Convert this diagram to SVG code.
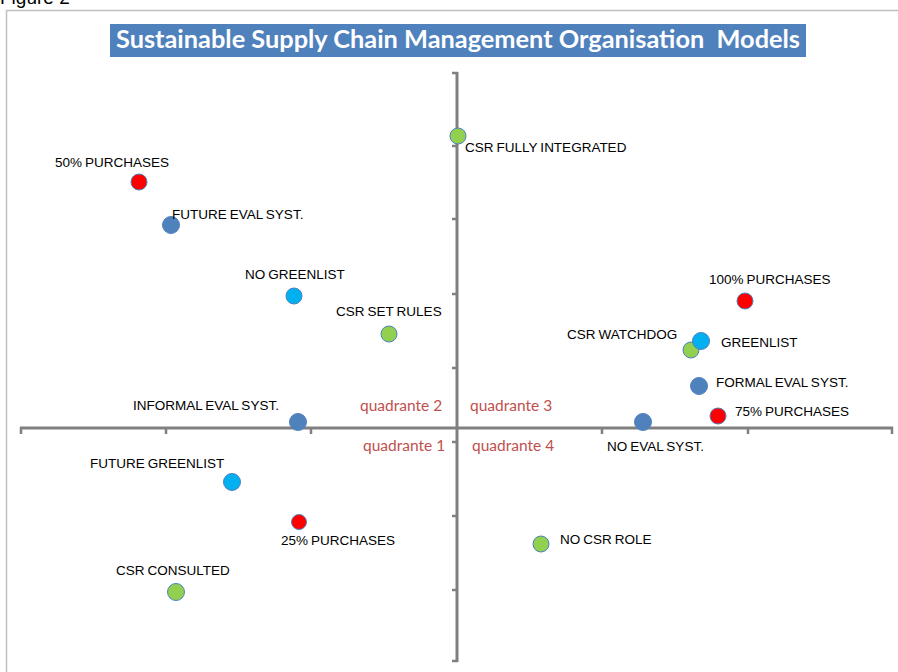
<svg xmlns="http://www.w3.org/2000/svg" width="898" height="672" viewBox="0 0 898 672">
  <style>
    .lbl { font-family: "Liberation Sans", Arial, sans-serif; font-size: 13.5px; word-spacing: -0.7px; fill: #000; }
    .quad { font-family: Lato, "Open Sans", sans-serif; font-size: 15.5px; fill: #C0504D; }
    .axis { stroke: #808080; stroke-width: 3; fill: none; }
    .tick { stroke: #808080; stroke-width: 2.5; fill: none; }
    .pt { stroke: #4F81BD; stroke-width: 1; }
    .red { fill: #FF0000; }
    .green { fill: #92D050; }
    .cyan { fill: #00B0F0; }
    .blue { fill: #4F81BD; }
  </style>
  <rect width="898" height="672" fill="#FFFFFF"/>

  <!-- caption above the frame -->
  <text x="0" y="4" font-family="Liberation Sans, Arial, sans-serif" font-size="19" fill="#000">Figure 2</text>

  <!-- chart frame -->
  <path d="M6.5 672 V10.5 H898" fill="none" stroke="#BFBFBF" stroke-width="1.5"/>

  <!-- title banner -->
  <g id="title">
    <rect x="110" y="24" width="696" height="33" fill="#4F81BD"/>
    <text x="116" y="48" xml:space="preserve" font-family="Lato, 'Open Sans', sans-serif" font-weight="bold" font-size="24" fill="#FFFFFF" textLength="684" lengthAdjust="spacingAndGlyphs">Sustainable Supply Chain Management Organisation  Models</text>
  </g>

  <!-- axes with tick marks -->
  <g id="axes">
    <line class="axis" x1="20" y1="428" x2="893" y2="428"/>
    <line class="axis" x1="457" y1="72" x2="457" y2="662"/>
    <path class="tick" d="M21 427 V434 M166 428 V434 M311 428 V434 M602 428 V434 M748 428 V434 M892 427 V434"/>
    <path class="tick" d="M452 73 H458 M452 146 H457 M452 219 H457 M452 294 H457 M452 368 H457 M452 442 H457 M452 516 H457 M452 590 H457 M452 661 H458"/>
  </g>

  <!-- quadrant names -->
  <g id="quadrants">
    <text class="quad" x="360" y="411">quadrante 2</text>
    <text class="quad" x="470" y="411">quadrante 3</text>
    <text class="quad" x="363" y="451">quadrante 1</text>
    <text class="quad" x="472" y="451">quadrante 4</text>
  </g>

  <!-- data points -->
  <g id="csr-fully-integrated">
    <circle class="pt green" cx="458" cy="136" r="8"/>
    <text class="lbl" x="465" y="152">CSR FULLY INTEGRATED</text>
  </g>
  <g id="purchases-50">
    <circle class="pt red" cx="139" cy="182" r="8"/>
    <text class="lbl" x="55" y="167">50% PURCHASES</text>
  </g>
  <g id="future-eval-syst">
    <circle class="pt blue" cx="171" cy="225" r="8.5"/>
    <text class="lbl" x="172" y="219">FUTURE EVAL SYST.</text>
  </g>
  <g id="no-greenlist">
    <circle class="pt cyan" cx="294" cy="296" r="8"/>
    <text class="lbl" x="245" y="279">NO GREENLIST</text>
  </g>
  <g id="csr-set-rules">
    <circle class="pt green" cx="389" cy="334" r="8"/>
    <text class="lbl" x="336" y="316">CSR SET RULES</text>
  </g>
  <g id="purchases-100">
    <circle class="pt red" cx="745" cy="301" r="8"/>
    <text class="lbl" x="709" y="284">100% PURCHASES</text>
  </g>
  <g id="csr-watchdog">
    <circle class="pt green" cx="691" cy="350" r="8"/>
    <text class="lbl" x="567" y="339">CSR WATCHDOG</text>
  </g>
  <g id="greenlist">
    <circle class="pt cyan" cx="701" cy="341" r="8.5"/>
    <text class="lbl" x="721" y="347">GREENLIST</text>
  </g>
  <g id="formal-eval-syst">
    <circle class="pt blue" cx="699" cy="386" r="8.5"/>
    <text class="lbl" x="716" y="387">FORMAL EVAL SYST.</text>
  </g>
  <g id="purchases-75">
    <circle class="pt red" cx="718" cy="416" r="8"/>
    <text class="lbl" x="735" y="416">75% PURCHASES</text>
  </g>
  <g id="no-eval-syst">
    <circle class="pt blue" cx="643" cy="422" r="8.5"/>
    <text class="lbl" x="607" y="451">NO EVAL SYST.</text>
  </g>
  <g id="informal-eval-syst">
    <circle class="pt blue" cx="298" cy="422" r="8.5"/>
    <text class="lbl" x="133" y="410">INFORMAL EVAL SYST.</text>
  </g>
  <g id="future-greenlist">
    <circle class="pt cyan" cx="232" cy="482" r="8.5"/>
    <text class="lbl" x="90" y="468">FUTURE GREENLIST</text>
  </g>
  <g id="purchases-25">
    <circle class="pt red" cx="299" cy="522" r="7.5"/>
    <text class="lbl" x="281" y="545">25% PURCHASES</text>
  </g>
  <g id="no-csr-role">
    <circle class="pt green" cx="541" cy="544" r="8"/>
    <text class="lbl" x="560" y="544">NO CSR ROLE</text>
  </g>
  <g id="csr-consulted">
    <circle class="pt green" cx="176" cy="592" r="8.5"/>
    <text class="lbl" x="116" y="575">CSR CONSULTED</text>
  </g>

  <!-- the chart has no connectors between points -->
  <g id="connectors"/>
</svg>
